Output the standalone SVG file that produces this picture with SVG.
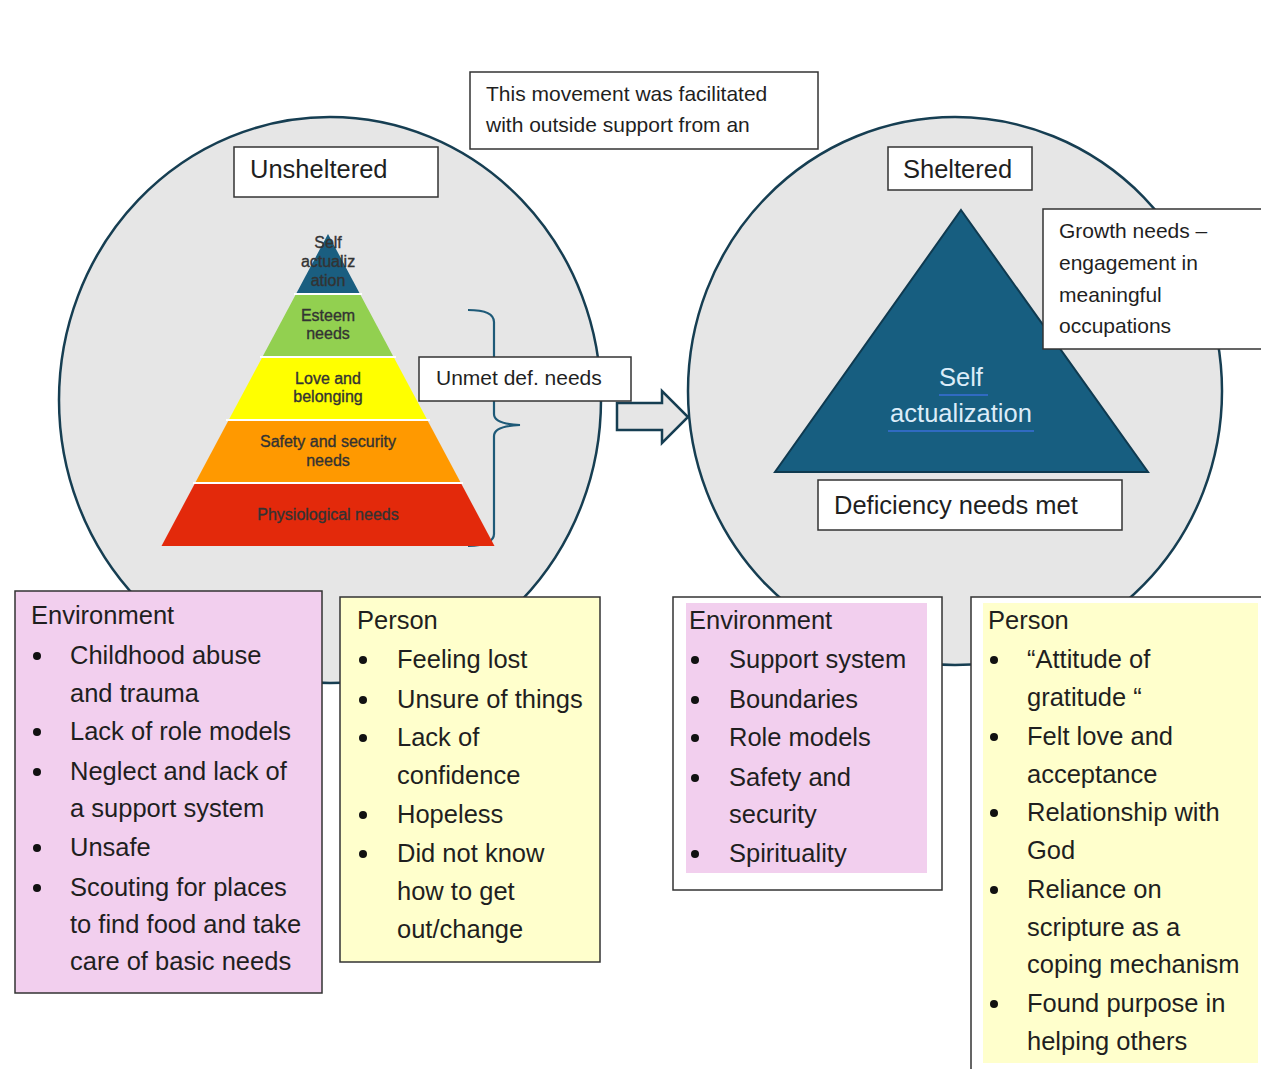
<svg xmlns="http://www.w3.org/2000/svg" width="1261" height="1069" viewBox="0 0 1261 1069">
<style>
  .circle { fill: #e6e6e6; stroke: #163e52; stroke-width: 2.5; }
  .box { fill: #ffffff; stroke: #333333; stroke-width: 1.5; }
  .t { font-family: "Liberation Sans", Arial, sans-serif; fill: #1f1f1f; }
  .lbl { font-size: 25.5px; }
  .sm { font-size: 21px; }
  .li { font-size: 25.5px; }
  .pt { font-family: "Liberation Sans", Arial, sans-serif; font-size: 16px; fill: #333333; stroke: #333333; stroke-width: 0.35; text-anchor: middle; }
  .bul { fill: #111111; }
  .sep { stroke: #ffffff; stroke-width: 2; }
</style>
<rect width="1261" height="1069" fill="#ffffff"/>

<g id="left-circle">
  <ellipse class="circle" cx="330" cy="400" rx="271" ry="283"/>
</g>
<g id="right-circle">
  <ellipse class="circle" cx="955" cy="391" rx="267" ry="274"/>
</g>

<g id="connectors">
  <path d="M468,310 Q494,310 494,322 L494,414 Q494,424 520,425 Q494,426 494,436 L494,534 Q494,545 468,546" fill="none" stroke="#1e5a78" stroke-width="2.2"/>
  <path d="M617,403 L662,403 L662,391 L688,417 L662,443 L662,430 L617,430 Z" fill="#e6e6e6" stroke="#163e52" stroke-width="2.5" stroke-linejoin="miter"/>
</g>

<g id="top-note">
  <rect class="box" x="470" y="72" width="348" height="77"/>
  <text class="t sm" x="486" y="101">This movement was facilitated</text>
  <text class="t sm" x="486" y="132">with outside support from an</text>
</g>

<g id="unsheltered">
  <rect class="box" x="234" y="147" width="204" height="50"/>
  <text class="t lbl" x="250" y="178">Unsheltered</text>
</g>

<g id="pyramid">
  <polygon points="328,234 360,294 296,294" fill="#1a5e80"/>
  <polygon points="296,294 360,294 393.6,357 262.4,357" fill="#92d050"/>
  <polygon points="262.4,357 393.6,357 427.3,420 228.7,420" fill="#ffff00"/>
  <polygon points="228.7,420 427.3,420 460.9,483 195.1,483" fill="#ff9900"/>
  <polygon points="195.1,483 460.9,483 494.5,546 161.5,546" fill="#e3290b"/>
  <line class="sep" x1="294" y1="294" x2="362" y2="294"/>
  <line class="sep" x1="260" y1="357" x2="396" y2="357"/>
  <line class="sep" x1="226" y1="420" x2="430" y2="420"/>
  <line class="sep" x1="193" y1="483" x2="463" y2="483"/>
  <text class="pt" x="328" y="248">Self</text>
  <text class="pt" x="328" y="267">actualiz</text>
  <text class="pt" x="328" y="286">ation</text>
  <text class="pt" x="328" y="321">Esteem</text>
  <text class="pt" x="328" y="339">needs</text>
  <text class="pt" x="328" y="384">Love and</text>
  <text class="pt" x="328" y="402">belonging</text>
  <text class="pt" x="328" y="447">Safety and security</text>
  <text class="pt" x="328" y="466">needs</text>
  <text class="pt" x="328" y="520">Physiological needs</text>
</g>

<g id="unmet">
  <rect class="box" x="419" y="357" width="212" height="44"/>
  <text class="t sm" x="436" y="385">Unmet def. needs</text>
</g>

<g id="sheltered">
  <rect class="box" x="888" y="147" width="144" height="43"/>
  <text class="t lbl" x="903" y="178">Sheltered</text>
</g>

<g id="self-actualization">
  <polygon points="961,210 1148,472 775,472" fill="#175e80" stroke="#0f3a50" stroke-width="2"/>
  <text class="t lbl" x="961" y="386" text-anchor="middle" style="fill:#dcecf8">Self</text>
  <text class="t lbl" x="961" y="422" text-anchor="middle" style="fill:#dcecf8">actualization</text>
  <line x1="939" y1="395" x2="988" y2="395" stroke="#3a6fd8" stroke-width="1.5"/>
  <line x1="888" y1="431" x2="1034" y2="431" stroke="#3a6fd8" stroke-width="1.5"/>
</g>

<g id="growth">
  <rect class="box" x="1043" y="209" width="230" height="140"/>
  <text class="t sm" x="1059" y="238">Growth needs –</text>
  <text class="t sm" x="1059" y="270">engagement in</text>
  <text class="t sm" x="1059" y="302">meaningful</text>
  <text class="t sm" x="1059" y="333">occupations</text>
</g>

<g id="deficiency">
  <rect class="box" x="818" y="480" width="304" height="50"/>
  <text class="t lbl" x="834" y="514">Deficiency needs met</text>
</g>

<g id="left-environment">
  <rect x="15" y="591" width="307" height="402" fill="#f2cfee" stroke="#333333" stroke-width="1.5"/>
  <text class="t li" x="31" y="624">Environment</text>
  <circle class="bul" cx="37" cy="656" r="4"/>
  <text class="t li" x="70" y="664">Childhood abuse</text>
  <text class="t li" x="70" y="702">and trauma</text>
  <circle class="bul" cx="37" cy="732" r="4"/>
  <text class="t li" x="70" y="740">Lack of role models</text>
  <circle class="bul" cx="37" cy="772" r="4"/>
  <text class="t li" x="70" y="780">Neglect and lack of</text>
  <text class="t li" x="70" y="817">a support system</text>
  <circle class="bul" cx="37" cy="848" r="4"/>
  <text class="t li" x="70" y="856">Unsafe</text>
  <circle class="bul" cx="37" cy="888" r="4"/>
  <text class="t li" x="70" y="896">Scouting for places</text>
  <text class="t li" x="70" y="933">to find food and take</text>
  <text class="t li" x="70" y="970">care of basic needs</text>
</g>

<g id="left-person">
  <rect x="340" y="597" width="260" height="365" fill="#ffffcc" stroke="#333333" stroke-width="1.5"/>
  <text class="t li" x="357" y="629">Person</text>
  <circle class="bul" cx="363" cy="660" r="4"/>
  <text class="t li" x="397" y="668">Feeling lost</text>
  <circle class="bul" cx="363" cy="700" r="4"/>
  <text class="t li" x="397" y="708">Unsure of things</text>
  <circle class="bul" cx="363" cy="738" r="4"/>
  <text class="t li" x="397" y="746">Lack of</text>
  <text class="t li" x="397" y="784">confidence</text>
  <circle class="bul" cx="363" cy="815" r="4"/>
  <text class="t li" x="397" y="823">Hopeless</text>
  <circle class="bul" cx="363" cy="854" r="4"/>
  <text class="t li" x="397" y="862">Did not know</text>
  <text class="t li" x="397" y="900">how to get</text>
  <text class="t li" x="397" y="938">out/change</text>
</g>

<g id="right-environment">
  <rect class="box" x="673" y="597" width="269" height="293"/>
  <rect x="686" y="603" width="241" height="270" fill="#f2cfee"/>
  <text class="t li" x="689" y="629">Environment</text>
  <circle class="bul" cx="695" cy="660" r="4"/>
  <text class="t li" x="729" y="668">Support system</text>
  <circle class="bul" cx="695" cy="700" r="4"/>
  <text class="t li" x="729" y="708">Boundaries</text>
  <circle class="bul" cx="695" cy="738" r="4"/>
  <text class="t li" x="729" y="746">Role models</text>
  <circle class="bul" cx="695" cy="778" r="4"/>
  <text class="t li" x="729" y="786">Safety and</text>
  <text class="t li" x="729" y="823">security</text>
  <circle class="bul" cx="695" cy="854" r="4"/>
  <text class="t li" x="729" y="862">Spirituality</text>
</g>

<g id="right-person">
  <rect class="box" x="971" y="597" width="300" height="480"/>
  <rect x="983" y="603" width="275" height="460" fill="#ffffcc"/>
  <text class="t li" x="988" y="629">Person</text>
  <circle class="bul" cx="994" cy="660" r="4"/>
  <text class="t li" x="1027" y="668">“Attitude of</text>
  <text class="t li" x="1027" y="706">gratitude “</text>
  <circle class="bul" cx="994" cy="737" r="4"/>
  <text class="t li" x="1027" y="745">Felt love and</text>
  <text class="t li" x="1027" y="783">acceptance</text>
  <circle class="bul" cx="994" cy="813" r="4"/>
  <text class="t li" x="1027" y="821">Relationship with</text>
  <text class="t li" x="1027" y="859">God</text>
  <circle class="bul" cx="994" cy="890" r="4"/>
  <text class="t li" x="1027" y="898">Reliance on</text>
  <text class="t li" x="1027" y="936">scripture as a</text>
  <text class="t li" x="1027" y="973">coping mechanism</text>
  <circle class="bul" cx="994" cy="1004" r="4"/>
  <text class="t li" x="1027" y="1012">Found purpose in</text>
  <text class="t li" x="1027" y="1050">helping others</text>
</g>
</svg>
